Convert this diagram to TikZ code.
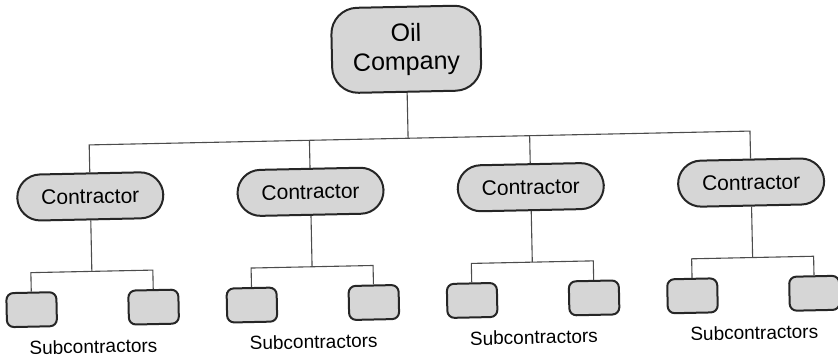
\documentclass[tikz,border=0pt]{standalone}
\usepackage{fontspec}
\setmainfont{Liberation Sans}
\begin{document}
\begin{tikzpicture}[x=1pt,y=-1pt,
  box/.style={draw=black!85, line width=2pt, fill=black!16},
  oilbox/.style={box, rounded corners=26pt, minimum width=149pt, minimum height=85pt, align=center, inner sep=2pt, font=\fontsize{25}{29}\selectfont},
  contbox/.style={box, rounded corners=23pt, minimum width=146pt, minimum height=46pt, inner sep=2pt, font=\fontsize{21}{25}\selectfont},
  subbox/.style={box, rounded corners=7pt, minimum width=50pt, minimum height=34pt, inner sep=0pt},
  sublabel/.style={font=\fontsize{19}{22}\selectfont, inner sep=0pt},
  link/.style={draw=black!70, line width=1.1pt}]
\useasboundingbox (0,0) rectangle (838,360);
\begin{scope}[rotate around={1.2:(420,180)}, transform shape]
  \node[oilbox] (oil) at (409,49) {Oil\\Company};
  \coordinate (top) at (409,138);
  \draw[link] (oil.south) -- (top);
  \foreach \i/\x in {1/90,2/310.3,3/530.6,4/751}{
    \node[contbox] (c\i) at (\x,189.5) {Contractor};
    \coordinate (t\i) at (\x,138);
    \coordinate (m\i) at (\x,264.5);
    \coordinate (l\i) at (\x-61,264.5);
    \coordinate (r\i) at (\x+61,264.5);
    \node[subbox] (sa\i) at (\x-61,301.5) {};
    \node[subbox] (sb\i) at (\x+61,301.5) {};
    \node[sublabel] (lab\i) at (\x,339.5) {Subcontractors};
    \draw[link] (c\i.south) -- (m\i);
    \draw[link] (sa\i.north) -- (l\i) -- (r\i) -- (sb\i.north);
  }
  \draw[link] (c1.north) -- (t1) -- (t4) -- (c4.north);
  \draw[link] (c2.north) -- (t2);
  \draw[link] (c3.north) -- (t3);
\end{scope}
\end{tikzpicture}
\end{document}
